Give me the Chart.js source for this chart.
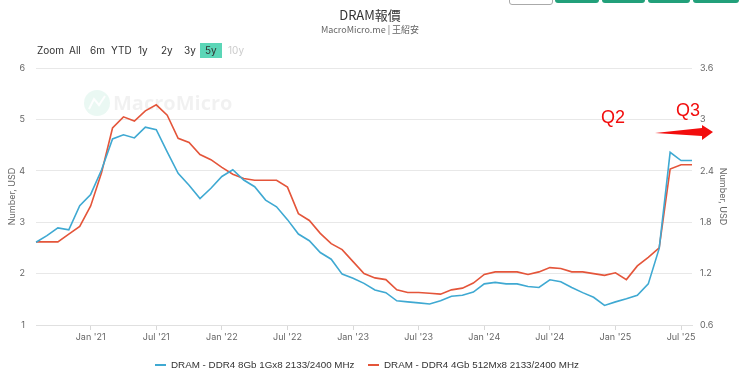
<!DOCTYPE html>
<html>
<head>
<meta charset="utf-8">
<script src="https://cdn.jsdelivr.net/npm/chart.js@4"></script>
<style>
  body { margin: 0; width: 740px; height: 379px; overflow: hidden; background: #fff; font-family: Inter, "Noto Sans", sans-serif; }
  #wrap { position: relative; width: 740px; height: 379px; }
  canvas { position: absolute; left: 0; top: 0; }
  .title { position: absolute; left: 0; width: 740px; text-align: center; top: 5px; font-size: 13px; color: #333; font-family: "Noto Sans CJK TC", sans-serif; }
  .sub { position: absolute; left: 0; width: 740px; text-align: center; top: 23px; font-size: 9px; color: #666; font-family: "Noto Sans CJK TC", sans-serif; }
  .zoom { position: absolute; top: 43px; font-size: 10px; color: #333; height: 15px; line-height: 15px; }
  .zoom.on { background: #5bd6b7; padding: 0 5px; }
  .zoom.off { color: #ccc; }
  .btn { position: absolute; top: -12px; height: 15px; border-radius: 3px; }
  .legend { position: absolute; top: 359px; font-size: 9.8px; color: #333; white-space: nowrap; font-family: "Liberation Sans", Arial, sans-serif; }
  .legend i { display: inline-block; width: 11px; height: 2px; vertical-align: middle; margin-right: 5px; }
</style>
</head>
<body>
<div id="wrap">
  <canvas id="c" width="740" height="379"></canvas>
  <div class="title">DRAM報價</div>
  <div class="sub">MacroMicro.me | 王紹安</div>
  <div class="btn" style="left:509px;width:42px;border:1px solid #aaa;background:#fff"></div>
  <div class="btn" style="left:555px;width:44px;background:#22a07a"></div>
  <div class="btn" style="left:602px;width:43px;background:#22a07a"></div>
  <div class="btn" style="left:648px;width:42px;background:#22a07a"></div>
  <div class="btn" style="left:693px;width:46px;background:#22a07a"></div>
  <div id="zoombar"></div>
  <div id="legend"></div>
</div>
<script>
// monthly points, Aug 2020 .. Aug 2025
const months = [
  '2020-08','2020-09','2020-10','2020-11','2020-12',
  '2021-01','2021-02','2021-03','2021-04','2021-05','2021-06','2021-07','2021-08','2021-09','2021-10','2021-11','2021-12',
  '2022-01','2022-02','2022-03','2022-04','2022-05','2022-06','2022-07','2022-08','2022-09','2022-10','2022-11','2022-12',
  '2023-01','2023-02','2023-03','2023-04','2023-05','2023-06','2023-07','2023-08','2023-09','2023-10','2023-11','2023-12',
  '2024-01','2024-02','2024-03','2024-04','2024-05','2024-06','2024-07','2024-08','2024-09','2024-10','2024-11','2024-12',
  '2025-01','2025-02','2025-03','2025-04','2025-05','2025-06','2025-07','2025-08'
];

const tickMonths = ['2021-01','2021-07','2022-01','2022-07','2023-01','2023-07','2024-01','2024-07','2025-01','2025-07'];
const tickLabels = ["Jan '21","Jul '21","Jan '22","Jul '22","Jan '23","Jul '23","Jan '24","Jul '24","Jan '25","Jul '25"];

// DDR4 8Gb 1Gx8 (left axis)
const ddr4_8gb = [
  2.61, 2.74, 2.89, 2.85, 3.32,
  3.54, 4.02, 4.62, 4.70, 4.64, 4.85, 4.80, 4.37, 3.95, 3.72, 3.46, 3.66,
  3.89, 4.02, 3.82, 3.69, 3.43, 3.30, 3.05, 2.77, 2.64, 2.41, 2.28, 1.99,
  1.91, 1.81, 1.68, 1.63, 1.47, 1.45, 1.43, 1.41, 1.47, 1.56, 1.58, 1.64,
  1.80, 1.83, 1.80, 1.80, 1.75, 1.73, 1.88, 1.84, 1.73, 1.63, 1.54, 1.38,
  1.45, 1.51, 1.58, 1.80, 2.49, 4.36, 4.20, 4.20
];

// DDR4 4Gb 512Mx8 (right axis)
const ddr4_4gb = [
  1.57, 1.57, 1.57, 1.66, 1.75,
  1.99, 2.38, 2.90, 3.03, 2.98, 3.10, 3.17, 3.05, 2.78, 2.73, 2.59, 2.53,
  2.44, 2.36, 2.31, 2.29, 2.29, 2.29, 2.21, 1.90, 1.82, 1.67, 1.55, 1.48,
  1.34, 1.20, 1.15, 1.13, 1.01, 0.98, 0.98, 0.97, 0.96, 1.01, 1.03, 1.09,
  1.19, 1.22, 1.22, 1.22, 1.19, 1.22, 1.27, 1.26, 1.22, 1.22, 1.20, 1.18,
  1.21, 1.13, 1.29, 1.39, 1.50, 2.42, 2.47, 2.47
];

const seriesNames = ['DRAM - DDR4 8Gb 1Gx8 2133/2400 MHz', 'DRAM - DDR4 4Gb 512Mx8 2133/2400 MHz'];
const seriesColors = ['#3fa9d2', '#e4553a'];

const zoomItems = ['Zoom', 'All', '6m', 'YTD', '1y', '2y', '3y', '5y', '10y'];
const zoomX = [37, 69, 90, 111, 138, 161, 184, 200, 228];

// range selector + legend (html)
const zb = document.getElementById('zoombar');
zoomItems.forEach((z, i) => {
  const d = document.createElement('div');
  d.className = 'zoom' + (z === '5y' ? ' on' : '') + (z === '10y' ? ' off' : '');
  d.style.left = zoomX[i] + 'px';
  d.innerText = z;
  zb.appendChild(d);
});
const lg = document.getElementById('legend');
[155, 368].forEach((x, i) => {
  const d = document.createElement('div');
  d.className = 'legend';
  d.style.left = x + 'px';
  d.innerHTML = `<i style="background:${seriesColors[i]}"></i>${seriesNames[i]}`;
  lg.appendChild(d);
});

// watermark + Q2/Q3 annotations
const decor = {
  id: 'decor',
  beforeDatasetsDraw(chart) {
    const ctx = chart.ctx;
    ctx.save();
    ctx.fillStyle = 'rgba(90,200,165,0.13)';
    ctx.beginPath();
    ctx.arc(97, 103, 13, 0, Math.PI * 2);
    ctx.fill();
    ctx.strokeStyle = 'rgba(255,255,255,0.9)';
    ctx.lineWidth = 2;
    ctx.beginPath();
    ctx.moveTo(89, 109); ctx.lineTo(94, 99); ctx.lineTo(99, 105); ctx.lineTo(105, 96);
    ctx.stroke();
    ctx.fillStyle = 'rgba(0,0,0,0.055)';
    ctx.font = 'bold 20px "Open Sans", sans-serif';
    ctx.textBaseline = 'middle';
    ctx.fillText('MacroMicro', 113, 104);
    ctx.restore();
  },
  afterDraw(chart) {
    const ctx = chart.ctx;
    ctx.save();
    ctx.fillStyle = '#f20d0d';
    ctx.font = '18px "Liberation Sans", Arial, sans-serif';
    ctx.textBaseline = 'alphabetic';
    ctx.fillText('Q2', 601, 123);
    ctx.fillText('Q3', 676, 116);
    ctx.beginPath();
    ctx.moveTo(655, 133);
    ctx.lineTo(702, 128);
    ctx.lineTo(702, 125);
    ctx.lineTo(713, 132);
    ctx.lineTo(702, 140);
    ctx.lineTo(702, 136);
    ctx.closePath();
    ctx.fill();
    ctx.restore();
  }
};

const tickFont = { size: 9, family: 'Inter, "Noto Sans", sans-serif' };

new Chart(document.getElementById('c'), {
  type: 'line',
  data: {
    labels: months,
    datasets: [
      { label: seriesNames[0], data: ddr4_8gb, borderColor: seriesColors[0], yAxisID: 'y', borderWidth: 1.6, pointRadius: 0, tension: 0 },
      { label: seriesNames[1], data: ddr4_4gb, borderColor: seriesColors[1], yAxisID: 'y1', borderWidth: 1.6, pointRadius: 0, tension: 0 }
    ]
  },
  options: {
    responsive: false,
    animation: false,
    layout: { padding: { top: 68, left: 0, right: 0, bottom: 0 } },
    plugins: { legend: { display: false }, tooltip: { enabled: false } },
    scales: {
      x: {
        offset: false,
        afterFit: s => { s.height = 54; },
        grid: {
          drawOnChartArea: false,
          tickLength: 5,
          color: c => tickMonths.includes(months[c.index]) ? '#d8d8d8' : 'rgba(0,0,0,0)'
        },
        border: { display: true, color: '#e0e0e0' },
        ticks: {
          autoSkip: false, maxRotation: 0, color: '#666', font: tickFont, padding: 2,
          callback: (v, i) => {
            const k = tickMonths.indexOf(months[i]);
            return k >= 0 ? tickLabels[k] : '';
          }
        }
      },
      y: {
        position: 'left',
        min: 1, max: 6,
        afterFit: s => { s.width = 36; },
        grid: { color: '#e8e8e8', drawTicks: false },
        border: { display: false },
        ticks: { stepSize: 1, color: '#666', font: tickFont, padding: 11 },
        title: { display: true, text: 'Number, USD', color: '#666', font: tickFont, padding: { top: 7, bottom: 0 } }
      },
      y1: {
        position: 'right',
        min: 0.6, max: 3.6,
        afterFit: s => { s.width = 48; },
        grid: { drawOnChartArea: false, drawTicks: false },
        border: { display: false },
        ticks: { stepSize: 0.6, color: '#666', font: tickFont, padding: 8, callback: v => String(Math.round(v * 10) / 10) },
        title: { display: true, text: 'Number, USD', color: '#666', font: tickFont, padding: { top: 12, bottom: 0 } }
      }
    }
  },
  plugins: [decor]
});
</script>
</body>
</html>
